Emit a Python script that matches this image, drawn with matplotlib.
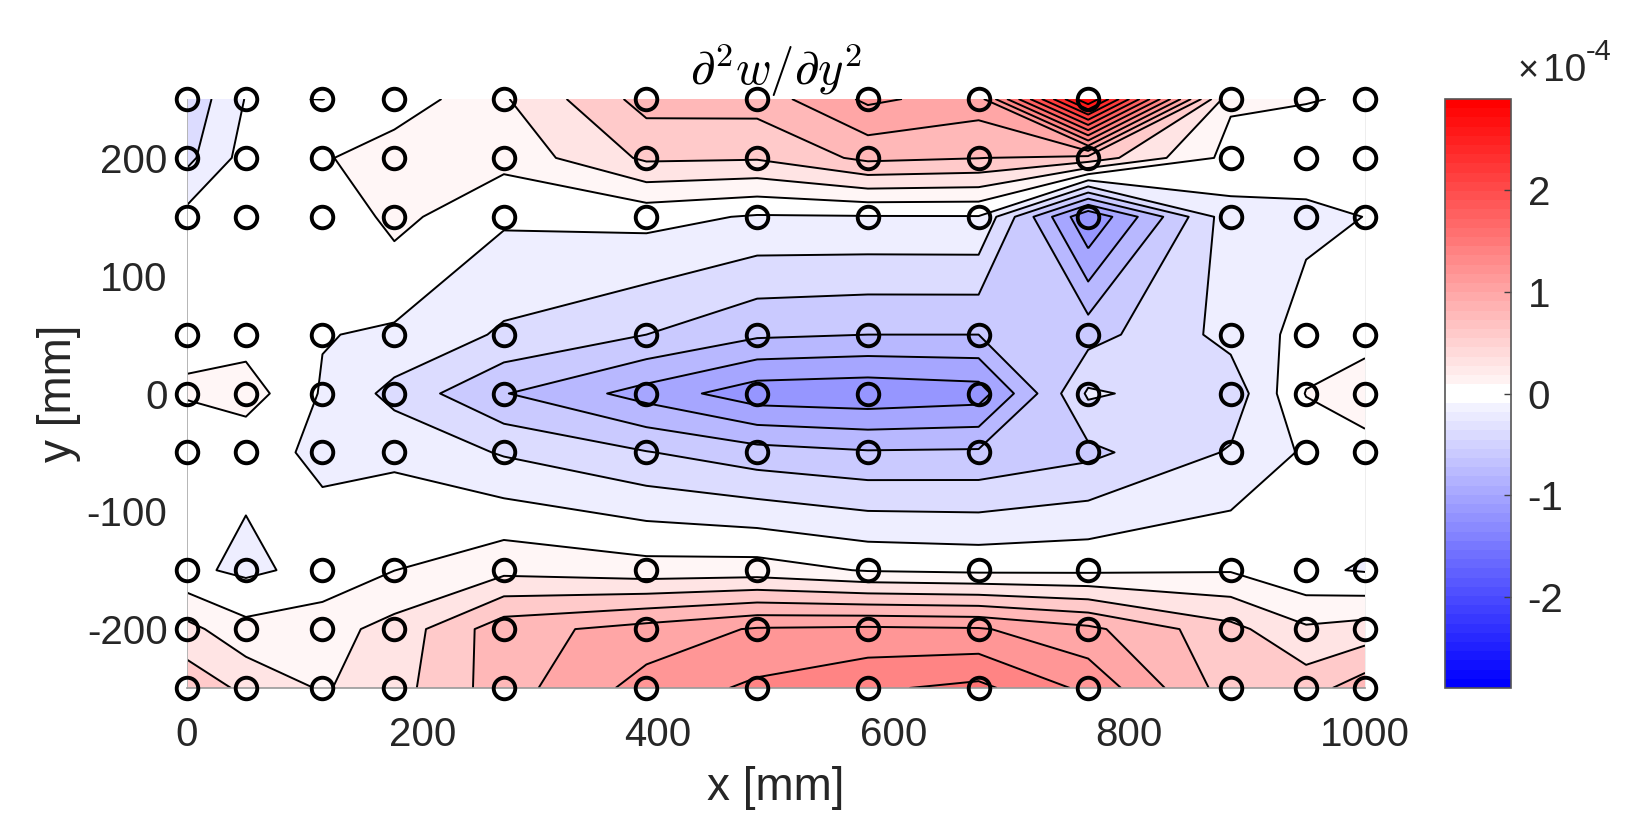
import numpy as np
import matplotlib
matplotlib.use('Agg')
import matplotlib.pyplot as plt
from matplotlib.cm import ScalarMappable
from matplotlib.colors import Normalize, ListedColormap

plt.rcParams['font.family'] = ['Liberation Sans', 'DejaVu Sans']
plt.rcParams['mathtext.fontset'] = 'cm'
plt.rcParams['axes.unicode_minus'] = False

# measurement stations [mm]
x_pos = [0, 50, 115, 176, 269, 390, 484, 578, 672, 765, 886, 950, 1000]
y_pos = [-250, -200, -150, -50, 0, 50, 150, 200, 250]

# values in units of 1e-4, one list per y station
row_m250 = [0.63, 0.456, 0.28, 0.42, 0.81, 1.18, 1.34, 1.47, 1.55, 1.25, 0.60, 0.61, 0.81]
row_m200 = [0.36, 0.162, 0.22, 0.37, 0.82, 0.98, 1.12, 1.14, 1.12, 0.95, 0.56, 0.33, 0.38]
row_m150 = [-0.06, -0.14, -0.04, 0.098, 0.245, 0.18, 0.19, 0.085, 0.056, 0.06, 0.085, -0.07, -0.115]
row_m50 = [-0.02, -0.054, -0.125, -0.14, -0.32, -0.49, -0.62, -0.68, -0.67, -0.55, -0.28, -0.07, 0.033]
row_0 = [0.115, 0.20, -0.12, -0.364, -0.69, -0.98, -1.22, -1.25, -1.20, -0.27, -0.43, 0.11, 0.20]
row_50 = [0.07, 0.015, -0.09, -0.13, -0.33, -0.50, -0.667, -0.70, -0.70, -0.58, -0.233, -0.03, 0.033]
row_150 = [-0.037, -0.02, -0.07, 0.16, -0.07, -0.035, -0.12, -0.113, -0.11, -1.29, -0.17, -0.14, -0.098]
row_200 = [-0.353, -0.02, 0.075, 0.226, 0.165, 0.535, 0.52, 0.75, 0.705, 0.63, 0.03, -0.005, -0.02]
row_250 = [-0.45, -0.09, -0.102, -0.036, 0.28, 0.78, 0.79, 1.14, 1.01, 2.90, 0.13, 0.11, 0.08]

levels = [-1.3, -1.1, -0.9, -0.7, -0.5, -0.3, -0.1, 0.1, 0.3, 0.5, 0.7, 0.9, 1.1,
          1.3, 1.5, 1.7, 1.9, 2.1, 2.3, 2.5, 2.7, 2.9]
# colour value of each band, same length as the gaps between levels
band_vals = [-1.2, -1.0, -0.8, -0.6, -0.4, -0.2, 0, 0.1, 0.3, 0.6, 0.8, 1.0, 1.2,
             1.4, 1.6, 1.8, 2.0, 2.2, 2.4, 2.6, 2.8]
x_ticks = [0, 200, 400, 600, 800, 1000]
y_ticks = [-200, -100, 0, 100, 200]
cbar_ticks = [-2, -1, 0, 1, 2]

Z = np.array([row_m250, row_m200, row_m150, row_m50, row_0, row_50, row_150, row_200, row_250])
X, Y = np.meshgrid(x_pos, y_pos)

W, H = 1650, 830
fig = plt.figure(figsize=(W / 100, H / 100), dpi=100)
ax = fig.add_axes([187 / W, 1 - 688 / H, (1365 - 187) / W, (688 - 99) / H])

# bwr in 64 steps with the two middle steps pure white
cols = plt.get_cmap('bwr')(np.linspace(0, 1, 64))
cols[31] = cols[32] = (1, 1, 1, 1)
cmap = ListedColormap(cols)
norm = Normalize(-2.9, 2.9)
smooth = plt.get_cmap('bwr')

fill_cols = [(1, 1, 1, 1) if v == 0 else smooth(norm(v)) for v in band_vals]
ax.contourf(X, Y, Z, levels=levels, colors=fill_cols)
ax.contour(X, Y, Z, levels=levels[1:-1], colors='k', linewidths=1.4, linestyles='solid')
ax.plot(X.ravel(), Y.ravel(), 'o', mfc='none', mec='k', ms=15.5, mew=2.8, clip_on=False, zorder=5)

ax.set_xlim(0, 1000)
ax.set_ylim(-250, 250)
ax.set_xticks(x_ticks)
ax.set_yticks(y_ticks)
ax.tick_params(length=0, labelsize=29, labelcolor='#262626')
ax.tick_params(axis='x', pad=20)
ax.tick_params(axis='y', pad=14)
ax.spines['top'].set_visible(False)
ax.spines['left'].set_color('#b5b5b5')
ax.spines['left'].set_linewidth(0.7)
ax.spines['bottom'].set_color('#999999')
ax.spines['bottom'].set_linewidth(1.2)
ax.spines['right'].set_color('#eeeeee')
ax.spines['right'].set_linewidth(0.7)

ax.set_xlabel('x [mm]', fontsize=33, color='#262626', labelpad=9)
ax.set_ylabel('y [mm]', fontsize=33, color='#262626', labelpad=4)
ax.set_title(r'$\partial^2 w/\partial y^2$', fontsize=35, pad=10)

cax = fig.add_axes([1445 / W, 1 - 688 / H, (1511 - 1445) / W, (688 - 99) / H])
cb = fig.colorbar(ScalarMappable(norm=norm, cmap=cmap), cax=cax)
cb.set_ticks(cbar_ticks)
cb.ax.tick_params(direction='in', length=5, width=1, color='#404040', labelsize=29,
                  labelcolor='#262626', pad=12)
cb.outline.set_edgecolor('#555555')
cb.outline.set_linewidth(1.2)

fig.text(1518 / W, 1 - 81 / H, '\u00d7', fontsize=26, color='#262626', ha='left', va='baseline')
fig.text(1543 / W, 1 - 81 / H, '10', fontsize=28, color='#262626', ha='left', va='baseline')
fig.text(1586 / W, 1 - 60 / H, '-4', fontsize=21, color='#262626', ha='left', va='baseline')

fig.savefig('out.png', dpi=100, facecolor='white')
